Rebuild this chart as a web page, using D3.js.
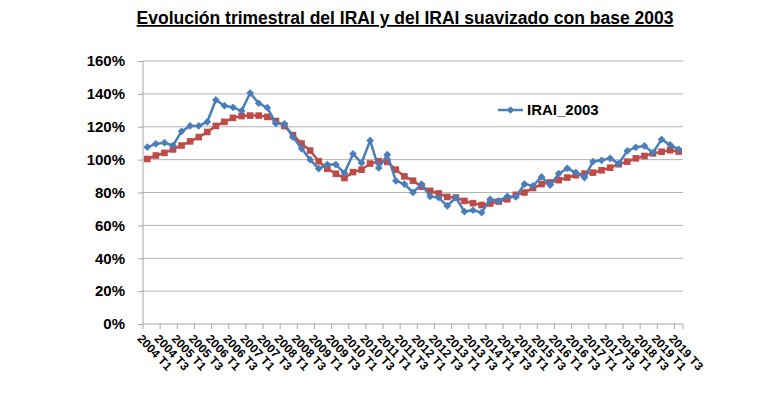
<!DOCTYPE html>
<html>
<head>
<meta charset="utf-8">
<script src="https://cdn.jsdelivr.net/npm/d3@7"></script>
<style>
  body { margin: 0; background: #fff; }
  svg { display: block; font-family: "Liberation Sans", Arial, sans-serif; }
</style>
</head>
<body>
<svg id="chart" width="770" height="399"></svg>
<script>
// Quarters 2004 T1 .. 2019 T3
const years = d3.range(2004, 2020);
const quarters = [];
years.forEach(yr => {
  for (let q = 1; q <= 4; q++) {
    if (yr === 2019 && q > 3) break;
    quarters.push(yr + " T" + q);
  }
});

// IRAI_2003 (%)
const irai = [
  107.6, 109.6, 110.3, 108.6, 117.2, 120.5, 120.5, 123.0,
  136.3, 132.8, 131.8, 129.7, 140.5, 134.3, 131.6, 122.0,
  121.8, 113.7, 106.7, 100.0, 94.5, 97.0, 97.0, 91.8,
  103.5, 98.0, 111.6, 94.9, 103.0, 87.1, 85.1, 80.0,
  85.1, 77.6, 76.9, 71.8, 76.9, 68.4, 69.2, 67.8,
  75.9, 74.9, 77.6, 77.3, 85.1, 84.1, 89.5, 84.5,
  91.5, 94.7, 92.1, 89.1, 98.8, 99.6, 100.8, 97.6,
  105.3, 107.5, 108.3, 104.2, 112.3, 109.0, 106.3
];

// IRAI suavizado (%)
const iraiSuav = [
  100.4, 102.5, 104.1, 106.2, 108.6, 111.1, 113.7, 116.8,
  120.5, 123.0, 125.4, 126.5, 126.8, 126.8, 126.0, 123.5,
  120.4, 114.9, 109.8, 105.5, 99.0, 94.5, 91.4, 88.8,
  92.4, 93.9, 97.6, 99.0, 98.6, 93.9, 89.8, 87.2,
  83.5, 81.0, 79.4, 77.3, 76.9, 74.9, 73.5, 72.4,
  73.3, 74.5, 75.9, 78.6, 80.0, 82.7, 85.1, 86.1,
  87.5, 89.1, 90.5, 91.5, 92.1, 93.5, 95.1, 97.2,
  98.8, 100.8, 102.2, 103.8, 104.8, 105.7, 104.9
];

const yTicks = [0, 20, 40, 60, 80, 100, 120, 140, 160];
const title = "Evolución trimestral del IRAI y del IRAI suavizado con base 2003";
const legendLabel = "IRAI_2003";

const plotLeft = 143, plotRight = 683, plotTop = 61, plotBottom = 324;
const blue = "#4A7EBB", red = "#BE4B48";

const svg = d3.select("#chart");

const x = d3.scaleBand().domain(quarters).range([plotLeft, plotRight]);
const y = d3.scaleLinear().domain([0, 160]).range([plotBottom, plotTop]);
const cx = d => x(d) + x.bandwidth() / 2;

// Title
svg.append("text")
  .attr("x", 405)
  .attr("y", 24)
  .attr("text-anchor", "middle")
  .attr("font-size", 17.5)
  .attr("font-weight", "bold")
  .attr("text-decoration", "underline")
  .text(title);

// Gridlines
svg.append("g")
  .selectAll("line")
  .data(yTicks.filter(t => t > 0))
  .enter()
  .append("line")
  .attr("x1", plotLeft)
  .attr("x2", plotRight)
  .attr("y1", d => y(d))
  .attr("y2", d => y(d))
  .attr("stroke", "#b3b3b3")
  .attr("stroke-width", 1);

// Y axis
const yAxis = d3.axisLeft(y)
  .tickValues(yTicks)
  .tickFormat(d => d + "%")
  .tickSize(5)
  .tickPadding(13);

const gy = svg.append("g")
  .attr("transform", "translate(" + plotLeft + ",0)")
  .call(yAxis);
gy.select(".domain").attr("stroke", "#a6a6a6").attr("d", "M0," + plotTop + "V" + plotBottom);
gy.selectAll(".tick line").attr("stroke", "#a6a6a6");
gy.selectAll(".tick text")
  .attr("font-size", 15)
  .attr("font-weight", "bold")
  .attr("font-family", "Liberation Sans, Arial, sans-serif")
  .attr("fill", "#000");

// X axis: ticks every two quarters at category boundaries
const gx = svg.append("g");
gx.append("line")
  .attr("x1", plotLeft).attr("x2", plotRight)
  .attr("y1", plotBottom).attr("y2", plotBottom)
  .attr("stroke", "#a6a6a6");
gx.selectAll(".xtick")
  .data(quarters.filter((d, i) => i % 2 === 0).concat(["end"]))
  .enter()
  .append("line")
  .attr("class", "xtick")
  .attr("x1", d => d === "end" ? plotRight : x(d))
  .attr("x2", d => d === "end" ? plotRight : x(d))
  .attr("y1", plotBottom)
  .attr("y2", plotBottom + 5)
  .attr("stroke", "#a6a6a6");

gx.selectAll(".xlabel")
  .data(quarters.filter((d, i) => i % 2 === 0))
  .enter()
  .append("text")
  .attr("class", "xlabel")
  .attr("transform", d => "translate(" + (cx(d) - 4) + "," + (plotBottom + 9) + ") rotate(47)")
  .attr("dy", "0.75em")
  .attr("font-size", 12)
  .attr("font-weight", "bold")
  .text(d => d);

// Lines
const line = d3.line()
  .x((d, i) => cx(quarters[i]))
  .y(d => y(d));

svg.append("path")
  .datum(iraiSuav)
  .attr("fill", "none")
  .attr("stroke", red)
  .attr("stroke-width", 2.5)
  .attr("d", line);

svg.append("g")
  .selectAll("rect")
  .data(iraiSuav)
  .enter()
  .append("rect")
  .attr("x", (d, i) => cx(quarters[i]) - 3.3)
  .attr("y", d => y(d) - 3.3)
  .attr("width", 6.6)
  .attr("height", 6.6)
  .attr("fill", red);

svg.append("path")
  .datum(irai)
  .attr("fill", "none")
  .attr("stroke", blue)
  .attr("stroke-width", 2.5)
  .attr("d", line);

const diamond = d3.symbol().type(d3.symbolDiamond2).size(38);
svg.append("g")
  .selectAll("path")
  .data(irai)
  .enter()
  .append("path")
  .attr("transform", (d, i) => "translate(" + cx(quarters[i]) + "," + y(d) + ")")
  .attr("d", diamond)
  .attr("fill", blue);

// Legend
const lg = svg.append("g").attr("transform", "translate(498,110)");
lg.append("line")
  .attr("x1", 0).attr("x2", 25)
  .attr("stroke", blue)
  .attr("stroke-width", 2.5);
lg.append("path")
  .attr("transform", "translate(12.5,0)")
  .attr("d", diamond)
  .attr("fill", blue);
lg.append("text")
  .attr("x", 29)
  .attr("dy", "0.36em")
  .attr("font-size", 15)
  .attr("font-weight", "bold")
  .text(legendLabel);
</script>
</body>
</html>
